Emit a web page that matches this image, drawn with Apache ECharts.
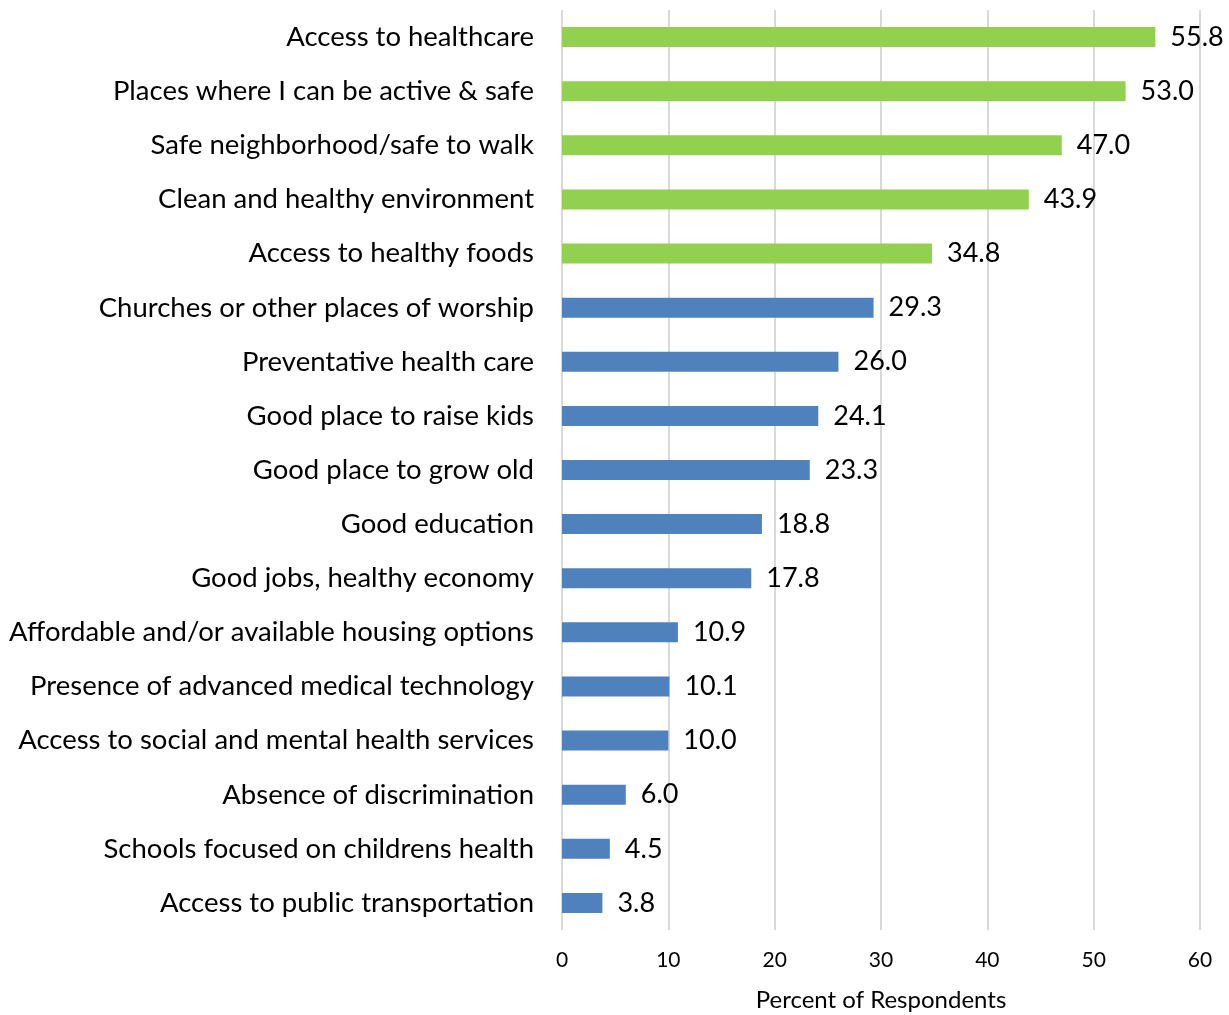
<!DOCTYPE html>
<html>
<head>
<meta charset="utf-8">
<script src="https://cdn.jsdelivr.net/npm/echarts@6/dist/echarts.min.js"></script>
<style>
  html, body { margin: 0; padding: 0; background: #fff; }
  #chart { width: 1229px; height: 1015px; }
</style>
</head>
<body>
<div id="chart"></div>
<script>
// categories listed top to bottom
const categories = [
  'Access to healthcare',
  'Places where I can be active & safe',
  'Safe neighborhood/safe to walk',
  'Clean and healthy environment',
  'Access to healthy foods',
  'Churches or other places of worship',
  'Preventative health care',
  'Good place to raise kids',
  'Good place to grow old',
  'Good education',
  'Good jobs, healthy economy',
  'Affordable and/or available housing options',
  'Presence of advanced medical technology',
  'Access to social and mental health services',
  'Absence of discrimination',
  'Schools focused on childrens health',
  'Access to public transportation'
]
const percents = [55.8, 53.0, 47.0, 43.9, 34.8, 29.3, 26.0, 24.1, 23.3, 18.8, 17.8, 10.9, 10.1, 10.0, 6.0, 4.5, 3.8]
const topCount = 5 // first five are highlighted green
const axisName = 'Percent of Respondents'

const GREEN = '#92D050'
const BLUE = '#4F81BD'
const FONT = 'Lato'

const chart = echarts.init(document.getElementById('chart'))

chart.setOption({
  animation: false,
  grid: {
    left: 562,
    right: 29,
    top: 10,
    bottom: 85,
    outerBoundsMode: 'none'
  },
  xAxis: {
    type: 'value',
    min: 0,
    max: 60,
    interval: 10,
    name: axisName,
    nameLocation: 'middle',
    nameGap: 58,
    nameTextStyle: { fontFamily: FONT, fontSize: 24, color: '#000' },
    axisLine: { show: false },
    axisTick: { show: false },
    axisLabel: { fontFamily: FONT, fontSize: 21, color: '#000', margin: 20 },
    splitLine: { lineStyle: { color: '#d9d9d9', width: 2 } }
  },
  yAxis: {
    type: 'category',
    inverse: true,
    data: categories,
    axisLine: { show: false },
    axisTick: { show: false },
    axisLabel: { fontFamily: FONT, fontSize: 27.5, color: '#000', margin: 28 }
  },
  series: [{
    type: 'bar',
    barWidth: 20,
    data: percents.map((v, i) => ({
      value: v,
      itemStyle: { color: i < topCount ? GREEN : BLUE }
    })),
    label: {
      show: true,
      position: 'right',
      distance: 15,
      fontFamily: FONT,
      fontSize: 27,
      color: '#000',
      formatter: p => p.value.toFixed(1)
    }
  }]
})
</script>
</body>
</html>
